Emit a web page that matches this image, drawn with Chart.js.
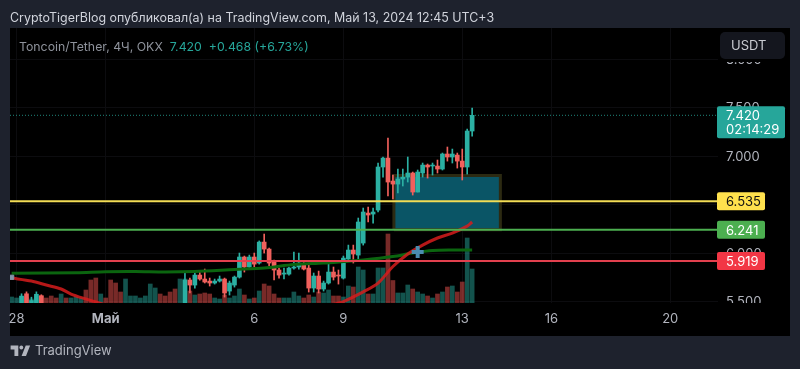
<!DOCTYPE html>
<html lang="ru">

<head>
    <meta charset="UTF-8">
    <title>Toncoin/Tether</title>
    <script src="https://cdnjs.cloudflare.com/ajax/libs/Chart.js/4.4.1/chart.umd.min.js"></script>
    <style>
        html, body { margin: 0; padding: 0; width: 800px; height: 369px; overflow: hidden; background: #1e222d; font-family: Inter, sans-serif; }
        #panel { position: absolute; left: 10px; top: 28px; width: 780px; height: 308px; background: #000; }
        #myChart { position: absolute; left: 0; top: 0; }
        .txt { position: absolute; white-space: nowrap; }
        #title { left: 10px; top: 10px; font-size: 12.45px; line-height: 16px; color: #d1d4dc; }
        #legend { left: 19px; top: 39px; font-size: 12.3px; line-height: 15px; color: #8f939c; }
        #legend span { color: #26a69a; }
        #unit { left: 720px; top: 32px; width: 65px; height: 27px; box-sizing: border-box; padding-left: 11px; background: #14161e; border-radius: 5px; font-size: 13px; line-height: 27px; color: #c8cad0; box-shadow: 0 3px 0 #000; }
        #logo { left: 10px; top: 345px; }
        #brand { left: 35px; top: 342px; font-size: 13px; line-height: 17px; color: #b2b5be; }
    </style>
</head>

<body>
    <div id="panel"></div>
    <canvas id="myChart" width="800" height="369"></canvas>
    <div class="txt" id="title">CryptoTigerBlog опубликовал(а) на TradingView.com, Май 13, 2024 12:45 UTC+3</div>
    <div class="txt" id="legend">Toncoin/Tether, 4Ч, OKX &nbsp;<span>7.420 &nbsp;+0.468 (+6.73%)</span></div>
    <div class="txt" id="unit">USDT</div>
    <svg class="txt" id="logo" width="21" height="11" viewBox="0 0 36 20" fill="#b2b5be"><path d="M14 20H7V8H0V1h14v19zM28 20h-8l7.5-19h8L28 20z"/><circle cx="19.5" cy="4.5" r="3.5"/></svg>
    <div class="txt" id="brand">TradingView</div>

    <script>
        // candle number, 4H each, 0 = 1 May 00:00. ten candles per row
        var firstCandle = -19;
        var candleOpen = [5.36, 5.40, 5.44, 5.58, 5.43, 5.46, 5.56, 5.44, 5.40, 5.36,
            5.33, 5.40, 5.36, 5.39, 5.42, 5.44, 5.36, 5.24, 5.12, 5.17,
            5.14, 5.03, 4.95, 4.90, 5.03, 5.07, 5.10, 5.12, 5.16, 5.27,
            5.36, 5.32, 5.29, 5.25, 5.20, 5.38, 5.722, 5.670, 5.773, 5.732,
            5.711, 5.691, 5.711, 5.732, 5.608, 5.670, 5.752, 5.959, 5.856, 5.959,
            5.897, 6.113, 6.041, 5.917, 5.825, 5.783, 5.783, 5.845, 5.856, 5.876,
            5.845, 5.639, 5.763, 5.629, 5.691, 5.804, 5.773, 5.742, 5.938, 6.031,
            5.979, 6.103, 6.412, 6.402, 6.443, 6.887, 6.979, 6.742, 6.711, 6.763,
            6.783, 6.825, 6.629, 6.825, 6.907, 6.897, 6.897, 6.866, 7.021, 6.990,
            7.010, 6.948, 6.887, 7.258];
        var candleClose = [5.40, 5.45, 5.555, 5.44, 5.51, 5.575, 5.44, 5.40, 5.36, 5.33,
            5.40, 5.36, 5.39, 5.42, 5.44, 5.36, 5.24, 5.12, 5.17, 5.14,
            5.03, 4.95, 4.90, 5.03, 5.07, 5.10, 5.12, 5.16, 5.27, 5.36,
            5.32, 5.29, 5.25, 5.20, 5.38, 5.722, 5.670, 5.773, 5.732, 5.701,
            5.691, 5.711, 5.732, 5.588, 5.691, 5.752, 5.959, 5.856, 5.959, 5.886,
            6.113, 6.041, 5.897, 5.825, 5.773, 5.794, 5.845, 5.856, 5.897, 5.835,
            5.639, 5.763, 5.629, 5.691, 5.804, 5.752, 5.763, 5.948, 6.031, 5.990,
            6.320, 6.423, 6.392, 6.423, 6.887, 6.979, 6.732, 6.711, 6.763, 6.783,
            6.825, 6.629, 6.835, 6.907, 6.887, 6.907, 6.866, 7.021, 6.990, 7.021,
            6.948, 6.887, 7.258, 7.420];
        var candleLow = [5.33, 5.38, 5.41, 5.40, 5.40, 5.44, 5.40, 5.38, 5.34, 5.31,
            5.31, 5.34, 5.34, 5.37, 5.40, 5.34, 5.22, 5.10, 5.10, 5.12,
            5.01, 4.93, 4.88, 4.88, 5.01, 5.05, 5.08, 5.10, 5.14, 5.25,
            5.30, 5.27, 5.23, 5.18, 5.18, 5.35, 5.588, 5.639, 5.72, 5.691,
            5.660, 5.680, 5.701, 5.546, 5.567, 5.649, 5.742, 5.804, 5.845, 5.856,
            5.886, 6.000, 5.866, 5.722, 5.742, 5.732, 5.773, 5.835, 5.835, 5.825,
            5.598, 5.598, 5.588, 5.608, 5.680, 5.722, 5.680, 5.732, 5.917, 5.897,
            5.938, 6.082, 6.320, 6.309, 6.423, 6.783, 6.588, 6.557, 6.619, 6.691,
            6.732, 6.598, 6.629, 6.783, 6.773, 6.804, 6.825, 6.856, 6.948, 6.928,
            6.876, 6.753, 6.814, 7.206];
        var candleHigh = [5.44, 5.47, 5.58, 5.60, 5.545, 5.60, 5.57, 5.45, 5.41, 5.37,
            5.42, 5.41, 5.41, 5.44, 5.46, 5.45, 5.37, 5.25, 5.19, 5.18,
            5.15, 5.04, 4.96, 5.05, 5.09, 5.12, 5.14, 5.18, 5.29, 5.38,
            5.37, 5.33, 5.30, 5.26, 5.40, 5.794, 5.742, 5.794, 5.804, 5.835,
            5.742, 5.732, 5.763, 5.742, 5.711, 5.763, 6.000, 5.969, 5.979, 6.000,
            6.125, 6.196, 6.051, 5.928, 5.845, 5.845, 5.856, 6.010, 6.000, 5.907,
            5.897, 5.794, 5.814, 5.711, 5.907, 5.856, 5.825, 5.969, 6.082, 6.082,
            6.361, 6.464, 6.474, 6.464, 6.928, 6.990, 7.186, 6.804, 6.866, 6.866,
            6.990, 6.835, 6.856, 6.928, 6.918, 6.928, 6.959, 7.031, 7.093, 7.072,
            7.031, 7.072, 7.278, 7.495];
        var volumes = [60, 50, 70, 60, 40, 70, 70, 50, 70, 50,
            90, 50, 50, 60, 50, 130, 230, 250, 90, 50,
            230, 200, 110, 240, 70, 70, 50, 70, 190, 150,
            90, 70, 110, 140, 240, 240, 120, 80, 90, 100,
            90, 50, 40, 80, 50, 70, 140, 80, 40, 50,
            120, 190, 170, 90, 50, 50, 50, 110, 70, 50,
            80, 60, 110, 100, 130, 70, 70, 60, 170, 160,
            360, 330, 90, 90, 350, 350, 690, 225, 100, 100,
            180, 140, 110, 90, 70, 50, 90, 110, 160, 170,
            110, 210, 650, 340];
        var volumeMax = 2750;

        // moving averages, read at a few candles only
        var greenMaX = [-19, -6, 0, 6, 12, 18, 26, 32, 38, 44, 48, 52, 58, 62, 66, 70, 74];
        var greenMaY = [5.791, 5.797, 5.807, 5.809, 5.804, 5.809, 5.83, 5.845, 5.881, 5.897, 5.912, 5.928, 5.964, 6.0, 6.026, 6.031, 6.031];
        var redMaX = [-19, -15, -12, -9, -7, -4, -2, 2, 14, 30, 40, 46, 48, 52, 55, 58, 61, 64, 67, 70, 73, 74];
        var redMaY = [5.742, 5.711, 5.67, 5.629, 5.577, 5.526, 5.495, 5.44, 5.32, 5.28, 5.35, 5.47, 5.50, 5.60, 5.69, 5.861, 5.99, 6.082, 6.155, 6.206, 6.278, 6.32];

        var markerX = [-19, 63];
        var markerY = [5.75, 6.01];

        var boxX = [58.2, 58.2, 79.7, 79.7, 58.2];
        var boxY = [6.241, 6.80, 6.80, 6.241, 6.241];

        var yTicks = [5.5, 6, 6.5, 7, 7.5, 8];
        var xTicks = [-18, 0, 30, 48, 72, 90, 114];
        var xLabels = ["28", "Май", "6", "9", "13", "16", "20"];

        var lastPrice = 7.420;
        var countdown = "02:14:29";
        var levelPrices = [6.535, 6.241, 5.919];
        var levelColors = ["#ffe14d", "#4caf50", "#f23645"];
        var levelLines = ["#f2dc55", "#4caf50", "#e2404e"];
        var levelText = ["#111111", "#ffffff", "#ffffff"];

        var up = "#2bb0a3", down = "#f0605c";
        var xMin = -19.33, xMax = 123.65;

        function pairs(xs, ys) {
            return xs.map(function (x, i) { return { x: x, y: ys[i] }; });
        }
        function flatLine(price) {
            return [{ x: xMin, y: price }, { x: xMax, y: price }];
        }

        var bodies = [], wicks = [], vols = [], bodyColors = [], volColors = [];
        candleOpen.forEach(function (o, i) {
            var n = firstCandle + i;
            var rising = candleClose[i] >= o;
            bodies.push({ x: n, y: [o, candleClose[i]] });
            wicks.push({ x: n, y: [candleLow[i], candleHigh[i]] });
            vols.push({ x: n, y: volumes[i] });
            bodyColors.push(rising ? up : down);
            volColors.push(rising ? "rgba(38,166,154,0.5)" : "rgba(239,83,80,0.5)");
        });

        var levelSets = levelPrices.map(function (p, i) {
            return { type: "line", data: flatLine(p), borderColor: levelLines[i], borderWidth: 2, pointRadius: 0, order: 1 };
        });

        // tags over the price axis, and the cut at the bottom of it
        var tagsPlugin = {
            id: "tags",
            afterDraw: function (chart) {
                var ctx = chart.ctx, y = chart.scales.y, right = chart.chartArea.right - 1;
                ctx.save();
                ctx.fillStyle = "#000";
                ctx.fillRect(right + 1, chart.chartArea.bottom, 72, 33);
                ctx.font = "13px Inter";
                ctx.textBaseline = "middle";
                levelPrices.forEach(function (p, i) {
                    var py = y.getPixelForValue(p);
                    ctx.fillStyle = levelColors[i];
                    ctx.beginPath();
                    ctx.roundRect(right, py - 9, 48, 18, 2);
                    ctx.fill();
                    ctx.fillStyle = levelText[i];
                    ctx.fillText(p.toFixed(3), right + 9, py + 1);
                });
                var ly = y.getPixelForValue(lastPrice);
                ctx.fillStyle = "#26a69a";
                ctx.beginPath();
                ctx.roundRect(right, ly - 9, 68, 32, 2);
                ctx.fill();
                ctx.fillStyle = "#ffffff";
                ctx.fillText(lastPrice.toFixed(3), right + 9, ly + 1);
                ctx.fillText(countdown, right + 9, ly + 15);
                ctx.restore();
            }
        };

        var chart = new Chart(document.getElementById("myChart").getContext("2d"), {
            data: {
                datasets: levelSets.concat([
                    { type: "line", data: flatLine(lastPrice), borderColor: "rgba(38,166,154,0.8)", borderWidth: 1, borderDash: [1, 2], pointRadius: 0, order: 1 },
                    { type: "scatter", data: pairs(markerX, markerY), pointStyle: ["rect", "cross"], pointRadius: [3, 6], borderWidth: [1, 4], borderColor: ["#8296a8", "#4a8db0"], backgroundColor: "#8296a8", order: 2 },
                    { type: "line", data: pairs(redMaX, redMaY), borderColor: "rgba(214,28,28,0.85)", borderWidth: 3, pointRadius: 0, tension: 0.3, order: 3 },
                    { type: "line", data: pairs(greenMaX, greenMaY), borderColor: "#0b650f", borderWidth: 3, pointRadius: 0, tension: 0.3, order: 4 },
                    { type: "bar", data: bodies, backgroundColor: bodyColors, barThickness: 4, grouped: false, minBarLength: 1, order: 5 },
                    { type: "bar", data: wicks, backgroundColor: bodyColors, barThickness: 1, grouped: false, order: 6 },
                    { type: "bar", data: vols, yAxisID: "yVol", backgroundColor: volColors, barThickness: 4, grouped: false, order: 7 },
                    { type: "line", data: pairs(boxX, boxY), fill: "shape", backgroundColor: "#0a5566", borderColor: "#2c2a12", borderWidth: 3, pointRadius: 0, order: 8 }
                ])
            },
            options: {
                responsive: false,
                animation: false,
                events: [],
                layout: { padding: { left: 10, top: 28, right: 10, bottom: 33 } },
                plugins: { legend: { display: false }, tooltip: { enabled: false } },
                scales: {
                    x: {
                        type: "linear",
                        offset: false,
                        min: xMin,
                        max: xMax,
                        afterFit: function (scale) { scale.height = 33; },
                        afterBuildTicks: function (scale) {
                            scale.ticks = xTicks.map(function (v) { return { value: v }; });
                        },
                        grid: { color: "#0c0c0f", drawTicks: false, offset: false },
                        border: { display: false },
                        ticks: {
                            autoSkip: false,
                            maxRotation: 0,
                            padding: 8,
                            color: "#b2b5be",
                            font: function (c) {
                                return { family: "Inter", size: 13, weight: c.tick && c.tick.value === 0 ? "bold" : "normal" };
                            },
                            callback: function (v) { return xLabels[xTicks.indexOf(v)]; }
                        }
                    },
                    y: {
                        position: "right",
                        min: 5.485,
                        max: 8.32,
                        afterFit: function (scale) { scale.width = 72; },
                        afterBuildTicks: function (scale) {
                            scale.ticks = yTicks.map(function (v) { return { value: v }; });
                        },
                        grid: { color: "#0c0c0f", drawTicks: false },
                        border: { display: false },
                        ticks: {
                            padding: 8,
                            labelOffset: 1,
                            color: "#b2b5be",
                            font: { family: "Inter", size: 13 },
                            callback: function (v) { return v.toFixed(3); }
                        }
                    },
                    yVol: { display: false, min: 0, max: volumeMax }
                }
            },
            plugins: [tagsPlugin]
        });
    </script>
</body>

</html>
